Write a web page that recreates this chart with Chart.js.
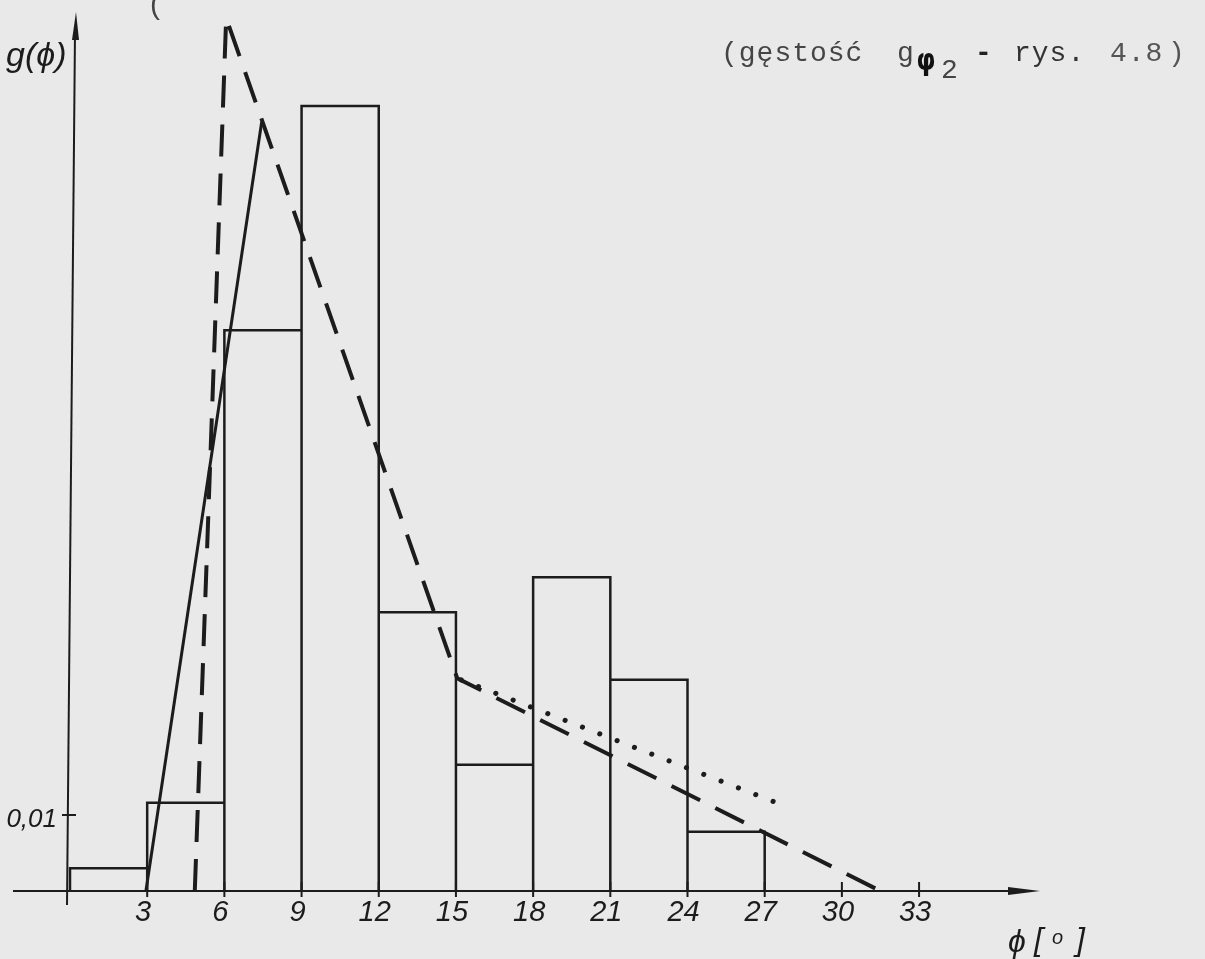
<!DOCTYPE html>
<html>
<head>
<meta charset="utf-8">
<script src="https://cdn.jsdelivr.net/npm/chart.js@4"></script>
<style>
  html, body { margin: 0; padding: 0; background: #e9e9e9; }
  #wrap { width: 1205px; height: 959px; position: relative; }
</style>
</head>
<body>
<div id="wrap"><canvas id="myChart"></canvas></div>
<script>
// histogram: bin edges (phi, degrees) and density g(phi)
const binEdges = [0, 3, 6, 9, 12, 15, 18, 21, 24, 27];
const binHeights = [0.0030, 0.0116, 0.0738, 0.1033, 0.0367, 0.0166, 0.0413, 0.0278, 0.0078];

// solid line (rising flank)
const solidX = [2.95, 7.45];
const solidY = [0, 0.1012];

// dashed density
const dashX = [4.85, 6.07, 15.05, 31.5];
const dashY = [0, 0.1149, 0.0280, 0];

// dotted tail
const dotX = [15.2, 27.4];
const dotY = [0.0278, 0.0117];

// axis ticks
const xTickValues = [3, 6, 9, 12, 15, 18, 21, 24, 27, 30, 33];
const xTickLabels = ['3', '6', '9', '12', '15', '18', '21', '24', '27', '30', '33'];
const yTickValues = [0.01];
const yTickLabels = ['0,01'];

const INK = '#1c1c1c';
const HAND = "italic 29px 'Liberation Sans'";

// histogram outline built from the bins
const histPoints = [];
binHeights.forEach((h, i) => {
  histPoints.push({ x: binEdges[i], y: 0 });
  histPoints.push({ x: binEdges[i], y: h });
  histPoints.push({ x: binEdges[i + 1], y: h });
  histPoints.push({ x: binEdges[i + 1], y: 0 });
});
const toPts = (xs, ys) => xs.map((x, i) => ({ x: x, y: ys[i] }));

// axes, arrows, ticks and all texts
const decor = {
  id: 'decor',
  beforeDatasetsDraw(chart) {
    const ctx = chart.ctx;
    const xs = chart.scales.x, ys = chart.scales.y;
    const x0 = xs.getPixelForValue(0), y0 = ys.getPixelForValue(0);
    const xEnd = chart.chartArea.right, yTop = ys.getPixelForValue(ys.max) + 10;
    ctx.save();
    ctx.strokeStyle = INK;
    ctx.fillStyle = INK;
    ctx.lineWidth = 2;
    // x axis
    ctx.beginPath();
    ctx.moveTo(13, y0);
    ctx.lineTo(xEnd - 20, y0);
    ctx.stroke();
    ctx.beginPath();
    ctx.moveTo(xEnd, y0);
    ctx.lineTo(xEnd - 32, y0 - 4);
    ctx.lineTo(xEnd - 32, y0 + 4);
    ctx.closePath();
    ctx.fill();
    // y axis
    ctx.beginPath();
    ctx.moveTo(x0 - 3, y0 + 14);
    ctx.lineTo(x0 + 5, yTop + 20);
    ctx.stroke();
    ctx.beginPath();
    ctx.moveTo(x0 + 6, yTop);
    ctx.lineTo(x0 + 2, yTop + 28);
    ctx.lineTo(x0 + 9, yTop + 28);
    ctx.closePath();
    ctx.fill();
    // x ticks + labels
    ctx.font = HAND;
    ctx.textAlign = 'center';
    ctx.textBaseline = 'middle';
    xTickValues.forEach((v, i) => {
      const px = xs.getPixelForValue(v);
      ctx.beginPath();
      ctx.moveTo(px, y0 - 9);
      ctx.lineTo(px, y0 + 6);
      ctx.stroke();
      ctx.fillText(xTickLabels[i], px - 4, y0 + 22);
    });
    // y ticks + labels
    ctx.font = "italic 26px 'Liberation Sans'";
    ctx.textAlign = 'right';
    yTickValues.forEach((v, i) => {
      const py = ys.getPixelForValue(v);
      ctx.beginPath();
      ctx.moveTo(x0 - 8, py);
      ctx.lineTo(x0 + 6, py);
      ctx.stroke();
      ctx.fillText(yTickLabels[i], x0 - 13, py + 5);
    });
    ctx.restore();
  },
  afterDraw(chart) {
    const ctx = chart.ctx;
    ctx.save();
    ctx.fillStyle = INK;
    ctx.textBaseline = 'alphabetic';
    ctx.textAlign = 'left';
    // axis names
    ctx.font = "italic 34px 'Liberation Sans'";
    ctx.fillText('g(\u03d5)', 6, 66);
    ctx.font = "italic 32px 'Liberation Sans'";
    ctx.fillText('\u03d5', 1008, 952);
    ctx.fillText('[', 1034, 950);
    ctx.fillText(']', 1076, 950);
    ctx.font = "italic 20px 'Liberation Sans'";
    ctx.fillText('o', 1052, 944);
    // scan mark
    ctx.font = "30px 'Liberation Sans'";
    ctx.fillStyle = '#444';
    ctx.fillText('(', 150, 14);
    // typewriter title
    const pitch = 17.8;
    const put = (s, x, y, font, color) => {
      ctx.font = font;
      ctx.fillStyle = color;
      for (let i = 0; i < s.length; i++) {
        ctx.fillText(s[i], x + i * pitch, y);
      }
    };
    const TW = "28px 'Liberation Mono'";
    put('(g\u0119sto\u015b\u0107', 721, 61, TW, '#454545');
    put('g', 897, 61, TW, '#454545');
    put('\u03c6', 917, 70, "bold 30px 'DejaVu Sans Mono'", '#111');
    put('2', 941, 78, TW, '#454545');
    put('-', 975, 61, "bold 28px 'Liberation Mono'", '#222');
    put('rys.', 1014, 61, TW, '#333');
    put('4.8', 1110, 61, TW, '#555');
    put(')', 1168, 61, TW, '#555');
    ctx.restore();
  }
};

const chartCanvas = document.getElementById('myChart');
new Chart(chartCanvas, {
  type: 'scatter',
  data: {
    datasets: [
      {
        label: 'histogram',
        data: histPoints,
        showLine: true,
        borderColor: INK,
        borderWidth: 2.5,
        borderJoinStyle: 'miter',
        pointRadius: 0,
        clip: false
      },
      {
        label: 'solid',
        data: toPts(solidX, solidY),
        showLine: true,
        borderColor: INK,
        borderWidth: 3,
        pointRadius: 0,
        clip: false
      },
      {
        label: 'dashed',
        data: toPts(dashX, dashY),
        showLine: true,
        borderColor: INK,
        borderWidth: 4,
        borderDash: [32, 17],
        pointRadius: 0,
        clip: false
      },
      {
        label: 'dotted',
        data: toPts(dotX, dotY),
        showLine: true,
        borderColor: INK,
        borderWidth: 5,
        borderCapStyle: 'round',
        borderDash: [0.1, 18.5],
        pointRadius: 0,
        clip: false
      }
    ]
  },
  options: {
    responsive: true,
    maintainAspectRatio: false,
    animation: false,
    layout: { padding: { left: 70, right: 165, top: 2, bottom: 68 } },
    scales: {
      x: { type: 'linear', min: 0, max: 37.7, display: false },
      y: { type: 'linear', min: 0, max: 0.117, display: false }
    },
    plugins: {
      legend: { display: false },
      tooltip: { enabled: false }
    }
  },
  plugins: [decor]
});
</script>
</body>
</html>
